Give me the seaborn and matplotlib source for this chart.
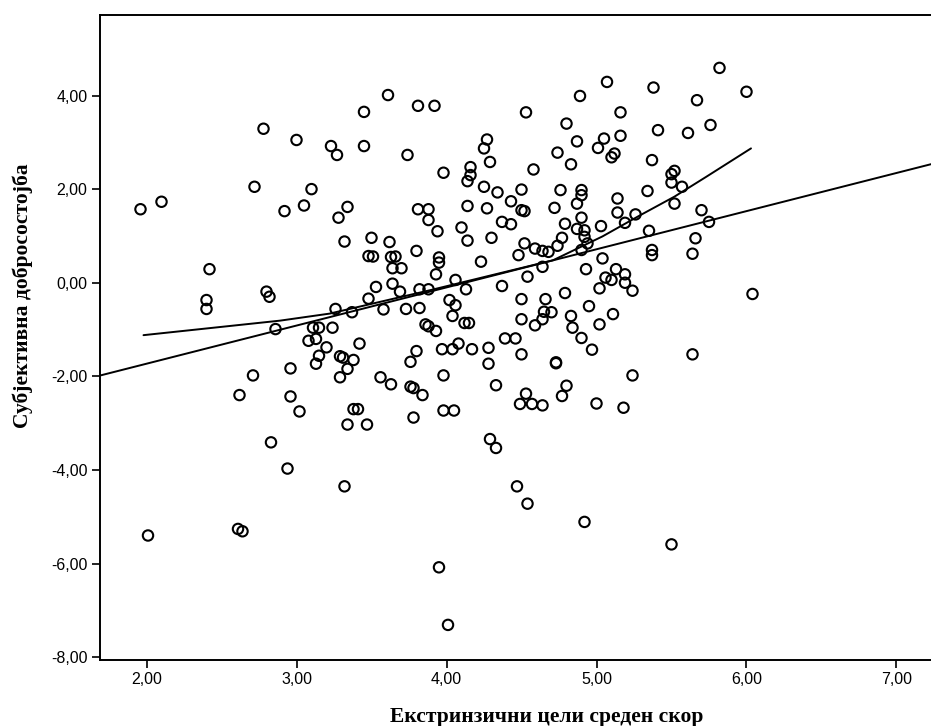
import matplotlib
matplotlib.use("Agg")
import matplotlib.pyplot as plt
import seaborn as sns
import numpy as np
import pandas as pd

# ---- data ----
extrinsic_goals = [
    1.96, 2.10, 2.78, 3.00, 3.23, 3.27, 3.45, 3.45, 2.72, 3.10, 2.92, 3.05, 3.34, 3.28, 3.32, 3.50, 3.48, 3.51,
    2.42, 2.40, 2.40, 2.80, 2.82, 3.53, 3.48, 3.58, 3.26, 3.37, 2.86, 3.11, 3.15, 3.24, 3.08, 3.13, 3.20, 3.42,
    3.15, 3.13, 3.29, 3.31, 3.38, 3.34, 3.29, 3.56, 2.96, 2.71, 2.62, 2.96, 3.02, 3.38, 3.41, 3.34, 3.47, 2.83, 2.94,
    3.32, 2.01, 2.61, 2.64,
    4.47, 4.54, 4.92, 3.95, 4.01, 5.50,
    5.37, 5.37, 5.64, 6.04, 5.64,
    5.82, 5.38, 6.00, 5.67, 5.41, 5.61, 5.76, 5.37, 5.52, 5.50, 5.50, 5.57, 5.34, 5.52, 5.70, 5.75, 5.35, 5.66,
    3.61, 3.81, 3.92, 4.53, 4.89, 5.07, 5.16, 4.80, 5.16, 5.05, 5.01, 4.87, 4.74, 5.12, 5.10, 4.83, 4.27, 4.25,
    4.29, 4.58, 3.74, 3.98, 4.16, 4.16, 4.14, 4.25, 4.34, 4.50, 4.76, 4.90, 4.90, 4.87, 5.14, 4.43, 4.50, 4.52,
    4.72, 4.14, 4.27, 3.81, 3.88, 3.88, 5.14, 5.26, 5.19, 4.79, 4.90, 4.87, 4.92, 4.92, 4.94, 4.90, 5.03, 4.77,
    4.74, 4.37, 4.43, 4.10, 3.94, 4.14, 4.30, 3.62, 3.80, 4.52, 4.59, 4.64, 4.68, 4.48, 5.04,
    3.63, 3.66, 3.95, 3.95, 4.23, 3.64, 3.70, 3.93, 4.54, 4.64, 4.93, 5.13, 5.19, 5.06, 5.10, 5.19, 5.24, 5.02,
    3.64, 3.69, 3.82, 3.88, 4.06, 4.13, 4.37, 4.79, 4.50, 4.66, 4.95, 5.11, 4.02, 4.06, 3.73, 3.82, 4.04, 4.12,
    4.15, 3.86, 3.88, 3.93, 4.50, 4.59, 4.64, 4.65, 4.70, 4.83, 4.84, 5.02, 4.90, 4.97, 4.39, 4.46, 4.50, 4.28,
    4.28, 4.17, 4.08, 4.04, 3.97, 3.80, 3.76, 3.63, 3.76, 3.78, 3.84, 3.98, 4.73, 4.73, 4.33, 4.53, 4.49, 4.57,
    4.64, 4.80, 4.77, 5.00, 5.18, 5.24, 3.98, 4.05, 3.78, 4.29, 4.33,
]
wellbeing = [
    1.57, 1.73, 3.29, 3.05, 2.92, 2.73, 3.65, 2.92, 2.05, 2.00, 1.53, 1.65, 1.62, 1.39, 0.88, 0.96, 0.57, 0.56,
    0.29, -0.37, -0.56, -0.19, -0.30, -0.09, -0.34, -0.57, -0.56, -0.63, -0.99, -0.96, -0.96, -0.96, -1.24, -1.20, -1.38, -1.30,
    -1.56, -1.73, -1.57, -1.60, -1.65, -1.84, -2.02, -2.02, -1.83, -1.98, -2.40, -2.43, -2.75, -2.70, -2.70, -3.03, -3.03, -3.41, -3.97,
    -4.35, -5.40, -5.26, -5.31,
    -4.35, -4.72, -5.11, -6.08, -7.31, -5.59,
    0.70, 0.59, 0.62, -0.24, -1.53,
    4.59, 4.17, 4.08, 3.90, 3.26, 3.20, 3.37, 2.62, 2.39, 2.32, 2.14, 2.05, 1.96, 1.69, 1.55, 1.30, 1.11, 0.95,
    4.01, 3.78, 3.78, 3.64, 3.99, 4.29, 3.64, 3.40, 3.14, 3.08, 2.88, 3.02, 2.78, 2.76, 2.68, 2.53, 3.06, 2.87,
    2.58, 2.42, 2.73, 2.35, 2.47, 2.30, 2.17, 2.05, 1.93, 1.99, 1.98, 1.98, 1.87, 1.69, 1.80, 1.74, 1.55, 1.53,
    1.60, 1.64, 1.59, 1.57, 1.57, 1.34, 1.50, 1.46, 1.28, 1.26, 1.39, 1.15, 1.12, 0.98, 0.84, 0.70, 1.21, 0.96,
    0.79, 1.30, 1.25, 1.18, 1.10, 0.90, 0.96, 0.87, 0.68, 0.84, 0.73, 0.68, 0.66, 0.59, 0.52,
    0.55, 0.56, 0.54, 0.43, 0.45, 0.31, 0.31, 0.18, 0.13, 0.34, 0.29, 0.29, 0.18, 0.11, 0.06, 0.00, -0.17, -0.12,
    -0.02, -0.19, -0.14, -0.14, 0.06, -0.14, -0.07, -0.22, -0.35, -0.35, -0.50, -0.67, -0.37, -0.48, -0.56, -0.54, -0.71, -0.86,
    -0.86, -0.89, -0.93, -1.03, -0.78, -0.91, -0.78, -0.62, -0.63, -0.71, -0.96, -0.89, -1.18, -1.43, -1.19, -1.19, -1.53, -1.39,
    -1.73, -1.42, -1.30, -1.42, -1.42, -1.46, -1.69, -2.17, -2.22, -2.25, -2.40, -1.98, -1.70, -1.72, -2.19, -2.37, -2.59, -2.59,
    -2.62, -2.20, -2.42, -2.58, -2.67, -1.98, -2.73, -2.73, -2.88, -3.34, -3.53,
]

# linear fit line
linear_intercept = -3.36
linear_slope = 0.815

# smooth (loess-like) fit line
smooth_x = [1.98, 2.89, 3.22, 3.89, 4.71, 5.04, 5.29, 5.52, 5.73, 6.03]
smooth_y = [-1.12, -0.81, -0.66, -0.16, 0.48, 0.99, 1.44, 1.84, 2.26, 2.87]

x_ticks = [2, 3, 4, 5, 6, 7]
x_tick_labels = ["2,00", "3,00", "4,00", "5,00", "6,00", "7,00"]
y_ticks = [-8, -6, -4, -2, 0, 2, 4]
y_tick_labels = ["-8,00", "-6,00", "-4,00", "-2,00", "0,00", "2,00", "4,00"]

x_label = "Екстринзични цели среден скор"
y_label = "Субјективна добросостојба"

# ---- plotting ----
sns.set_style("ticks")
plt.rcParams["font.family"] = ["Liberation Sans", "DejaVu Sans"]

W, H = 931, 726
fig = plt.figure(figsize=(W / 100, H / 100), dpi=100)
ax = fig.add_axes([100 / W, 66 / H, 831 / W, 645 / H])

df = pd.DataFrame({"x": extrinsic_goals, "y": wellbeing})
sns.scatterplot(data=df, x="x", y="y", ax=ax, marker="o", s=56,
                facecolors="none", edgecolor="black", linewidth=1.5, zorder=3)

xmin, xmax = 1.69, 7.23
lin = pd.DataFrame({"x": [xmin, xmax]})
lin["y"] = linear_intercept + linear_slope * lin["x"]
sns.lineplot(data=lin, x="x", y="y", ax=ax, color="black", linewidth=1.4, zorder=2)

sm = pd.DataFrame({"x": smooth_x, "y": smooth_y})
sns.lineplot(data=sm, x="x", y="y", ax=ax, color="black", linewidth=1.4, zorder=2,
             sort=False, estimator=None)

ax.set_xlim(xmin, xmax)
ax.set_ylim(-8.06, 5.72)
ax.set_xticks(x_ticks)
ax.set_xticklabels(x_tick_labels)
ax.set_yticks(y_ticks)
ax.set_yticklabels(y_tick_labels)
ax.tick_params(axis="both", direction="out", length=5.5, width=1.2, colors="black",
               labelsize=11.5, pad=3.5)

for side in ["left", "bottom", "top"]:
    ax.spines[side].set_visible(True)
    ax.spines[side].set_linewidth(1.4)
    ax.spines[side].set_color("black")
ax.spines["right"].set_visible(False)

ax.set_xlabel(x_label, family=["Liberation Serif", "DejaVu Serif"], fontweight="bold",
              fontsize=15.5, color="black")
ax.set_ylabel(y_label, family=["Liberation Serif", "DejaVu Serif"], fontweight="bold",
              fontsize=15.5, color="black")
ax.xaxis.set_label_coords(0.537, -0.073)
ax.yaxis.set_label_coords(-0.081, 0.565)

fig.savefig("out.png", dpi=100, facecolor="white")
